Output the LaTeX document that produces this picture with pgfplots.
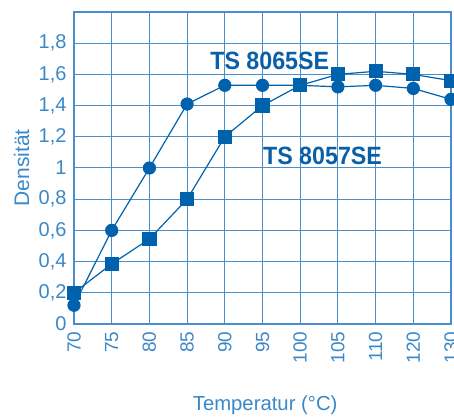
\documentclass[border=0pt]{standalone}
\usepackage{pgfplots}
\pgfplotsset{compat=1.18}
\usepackage{fontspec}
\setmainfont{Liberation Sans}
\newfontfamily\cond[FakeStretch=0.93]{Liberation Sans}
\definecolor{gridblue}{HTML}{4A8ECD}
\definecolor{textblue}{HTML}{3A88C8}
\definecolor{lineblue}{HTML}{0062AD}
\definecolor{labblue}{HTML}{0A60A8}

\begin{document}
\begin{tikzpicture}
\path[use as bounding box] (0,0) rectangle (454pt,419pt);
\begin{axis}[
    scale only axis,
    width=377pt, height=312pt,
    anchor=south west, at={(74pt,95pt)},
    xmin=0, xmax=10, ymin=0, ymax=2,
    xtick={0,...,10},
    xticklabels={70,75,80,85,90,95,100,105,110,120,130},
    ytick={0,0.2,...,1.81},
    /pgf/number format/.cd, fixed, precision=1, use comma, assume math mode=true,
    /pgfplots/.cd,
    grid=major,
    major grid style={gridblue, line width=1pt},
    axis line style={gridblue, line width=1.2pt},
    major tick length=0pt,
    tick style={draw=none},
    ticklabel style={font=\fontsize{19}{21}\selectfont, text=textblue},
    yticklabel style={xshift=-4pt, font=\fontsize{20}{22}\selectfont},
    xticklabel style={rotate=90, anchor=east, yshift=0pt, xshift=-4pt},
    xlabel={Temperatur (°C)},
    ylabel={Densität},
    label style={text=textblue},
    xlabel style={font=\fontsize{20.3}{22}\selectfont, at={(axis description cs:0.507,-0.26)}, anchor=center},
    ylabel style={font=\fontsize{21}{23}\selectfont, at={(axis description cs:-0.139,0.5)}, anchor=center, rotate=0},
    clip=false,
]
% TS 8065SE (circles)
\addplot[lineblue, line width=1.2pt, mark=*, mark size=6pt, mark options={fill=lineblue, draw=lineblue}]
  coordinates {(0,0.12) (1,0.6) (2,1.0) (3,1.41) (4,1.53) (5,1.53) (6,1.53) (7,1.52) (8,1.53) (9,1.51) (10,1.44)};
% TS 8057SE (squares)
\addplot[lineblue, line width=1.2pt, mark=square*, mark size=6.5pt, mark options={fill=lineblue, draw=lineblue}]
  coordinates {(0,0.2) (1,0.385) (2,0.545) (3,0.8) (4,1.2) (5,1.4) (6,1.53) (7,1.6) (8,1.62) (9,1.6) (10,1.56)};
\node[anchor=base west, inner sep=0pt, text=labblue, font=\cond\bfseries\fontsize{25}{27}\selectfont] at (axis cs:3.61,1.63) {TS 8065SE};
\node[anchor=base west, inner sep=0pt, text=labblue, font=\cond\bfseries\fontsize{25}{27}\selectfont] at (axis cs:5.01,1.02) {TS 8057SE};
\end{axis}
\end{tikzpicture}
\end{document}
